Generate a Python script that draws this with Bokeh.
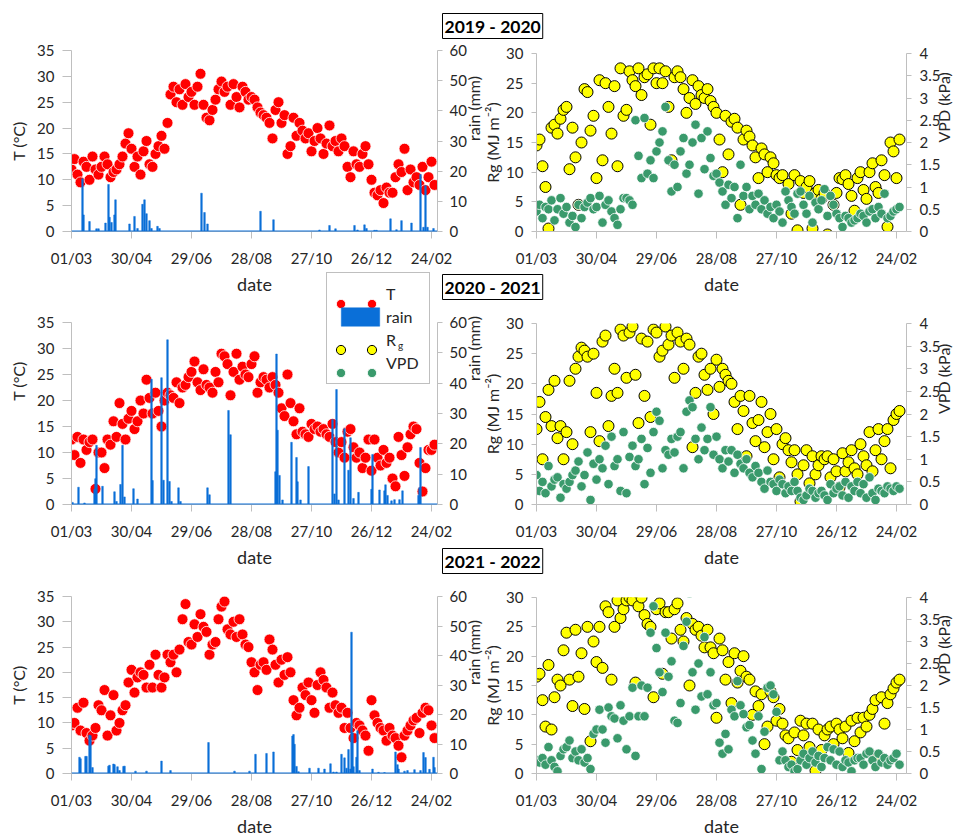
import math
from bokeh.plotting import figure
from bokeh.models import (Range1d, LinearAxis, FixedTicker, Legend, LegendItem,
                          Span, NumeralTickFormatter)
from bokeh.layouts import row, column
from bokeh.embed import file_html
from bokeh.resources import INLINE

# ---------------- data ----------------
tick_days = [0, 60, 120, 180, 240, 300, 360]
tick_labels = ["01/03", "30/04", "29/06", "28/08", "27/10", "26/12", "24/02"]
seasons = ["2019 - 2020", "2020 - 2021", "2021 - 2022"]
step_days = 3  # one reading every third day from 1 March

T_2019 = [12, 14, 11, 9.5, 13.5, 12.5, 10, 14.5, 12, 11,
          12.5, 14.5, 13, 10.5, 11.5, 12, 13, 14.5, 17, 19,
          16, 12.5, 14.5, 11, 15.5, 17.5, 13, 12.5, 15, 16.5,
          18.5, 16, 21, 26.5, 28, 25, 27.5, 24.5, 28.5, 26,
          27, 24.5, 28, 30.5, 24.5, 22, 21.5, 23.5, 25.5, 27.5,
          29, 27, 28, 24.5, 28.5, 26, 24, 28, 27, 25.5,
          26, 25.5, 24, 23, 22.5, 22, 21, 18, 23.5, 25,
          21, 22.5, 15, 16.5, 22, 18.5, 21, 19.5, 18, 19,
          15.5, 17.5, 20, 18, 15, 17, 20.5, 16.5, 17.5, 15.5,
          18, 16.5, 12.5, 10.5, 15.5, 13, 12.5, 15, 16.5, 13,
          10, 7.5, 7, 8, 5.5, 8.5, 7.5, 7.5, 10.5, 13,
          11.5, 16, 8, 12, 9.5, 10.5, 9, 12.5, 8, 10.5,
          13.5, 9]
rain_day_2019 = [11, 12, 18, 25, 27, 34, 37, 38, 40, 43, 44, 58, 63, 66, 71, 73, 75, 78, 80, 86, 88,
                 130, 133, 136, 189, 202, 248, 258, 264, 283, 286, 293, 295, 303, 305, 319, 325, 330,
                 340, 349, 352, 354, 356, 362]
rain_mm_2019 = [17.5, 5.5, 3.3, 0.9, 0.9, 2.8, 15.6, 4.7, 3, 5.5, 10.5, 2.5, 5, 1, 9, 10.5, 5.9, 3.6, 1, 1.7, 1,
                12.7, 6.3, 2.5, 6.7, 3.9, 0.5, 2, 0.9, 2, 0.5, 2.2, 1, 0.4, 0.4, 4.2, 0.6, 3.6,
                2.8, 18.9, 1.4, 15.2, 1.4, 1]
Rg_2019 = [14.5, 15.5, 11, 7.5, 0.5, 17.5, 18, 16.5, 19, 20.5,
           21, 10.5, 17.5, 12.5, 4.5, 15, 24, 23.5, 17, 19.5,
           9, 25.5, 12, 25, 21, 16.5, 24.5, 11, 27.5, 19.5,
           20.5, 27, 25.5, 24.5, 27.5, 23, 26, 26.5, 18, 27.5,
           25, 27.5, 25, 27, 21, 12, 26, 27, 26, 24,
           20, 22.5, 25.5, 21.5, 24.5, 23, 22.5, 24, 22, 21,
           20, 15.5, 10, 19.5, 13, 18.5, 19, 17.5, 4.5, 15.5,
           17, 16, 14.5, 12.5, 9, 14, 13, 10, 12.5, 11.5,
           9.5, 9, 9.5, -1.5, 8, 3, 9.5, 0.2, 8.5, 6.5,
           7.5, 8.5, 0.5, 6.5, 7, 5.5, 6.5, -0.5, -1.2, 4.5,
           6.5, 9, 8.8, 9.5, 8, 6, 3.5, 9, 10, 7,
           5.5, 10, 11.5, 7.5, 6.5, 12, 9.5, 0.8, 15, 13.5,
           9, 15.5]
VPD_2019 = [0.45, 0.6, 0.3, 0.55, 0.5, 0.7, 0.25, 0.5, 0.75, 0.4,
            0.55, 0.2, 0.35, 0.1, 0.6, 0.3, 0.55, 0.65, 0.75, 0.5,
            0.55, 0.8, 0.2, 0.6, 0.7, 0.45, 0.3, 0.15, 0.5, 0.75,
            0.75, 0.7, 0.6, 2.5, 1.7, 1.2, 2.55, 1.3, 1.6, 1.2,
            1.8, 2.0, 2.25, 2.8, 1.6, 0.9, 1.5, 1.0, 1.8, 2.1,
            1.3, 1.5, 2.0, 2.4, 0.85, 2.1, 1.4, 2.25, 1.65, 1.25,
            1.3, 1.1, 0.9, 0.6, 1.05, 0.75, 1.0, 0.3, 1.5, 0.8,
            1.0, 0.5, 0.8, 0.6, 0.85, 0.5, 0.7, 0.4, 0.55, 0.3,
            0.6, 0.45, 0.2, 0.9, 0.7, 0.55, 0.4, 0.85, 0.9, 0.6,
            0.4, 0.8, 0.2, 0.65, 0.5, 0.7, 0.95, 0.35, 0.8, 0.6,
            0.4, 0.3, 0.1, 0.35, 0.3, 0.2, 0.25, 0.3, 0.4, 0.35,
            0.2, 0.45, 0.5, 0.3, 0.55, 0.4, 0.85, 0.3, 0.35, 0.45,
            0.5, 0.55]

T_2020 = [12.5, 9.5, 13, 8, 12.5, 10.5, 12, 12.5, 3, 10,
          10, 7, 12.5, 11.5, 16, 13, 19.5, 15.5, 12.5, 16.5,
          18, 14.5, 16, 20, 17.5, 24, 20.5, 17.5, 21.5, 18,
          15, 20, 21.5, 21, 20.5, 23.5, 19.5, 22.5, 23, 24.5,
          25.5, 27.5, 23.5, 22, 26, 23, 22.5, 21.5, 25.5, 23.5,
          29, 28.5, 27, 21, 25.5, 29, 24, 26.5, 25, 24.5,
          27, 28.5, 21.5, 23.5, 24.5, 24, 22.5, 24.5, 23, 21.5,
          18.5, 17, 25, 19.5, 16, 13.5, 18.5, 14, 13.5, 13,
          15.5, 14.5, 15, 14, 14.5, 13.5, 13, 15.5, 12, 10,
          12, 9, 14, 14.5, 11, 9, 10, 7, 9, 12.5,
          6.5, 12.5, 9, 7.5, 10.5, 8, 9, 5, 3.5, 13,
          9.5, 5.5, 11, 13.5, 15, 14.5, 8, 2.5, 7, 10.5,
          10.5, 11.5]
rain_day_2020 = [1, 7, 13, 23, 24, 25, 31, 43, 45, 49, 51, 53, 62, 66, 80, 81, 90, 92, 96, 98, 100,
                 107, 109, 136, 138, 157, 159, 204, 205, 206, 208, 211, 220, 225, 226, 229, 237,
                 261, 263, 265, 267, 273, 277, 279, 282, 287, 300, 301, 308, 313, 314, 316,
                 320, 323, 328, 331, 347, 348, 349]
rain_mm_2020 = [0.7, 5.7, 0.5, 5, 8.5, 19.5, 6, 4.2, 1, 6.6, 19.5, 2.5, 5.2, 1.8, 41.3, 7.9, 41.8, 8, 54.3, 7.6, 1,
                5.5, 1, 5.5, 3.2, 31, 23, 10.8, 49.6, 24.5, 9.6, 1.5, 20.5, 15.5, 7.5, 1.5, 12.5,
                28, 3.5, 37.9, 1.5, 25, 11.3, 22, 2, 4, 5, 16.5, 4.8, 4.5, 6.5, 3,
                1.2, 1.6, 1.6, 4.5, 3, 5.5, 18.8]
Rg_2020 = [12.5, 17, 7.5, 14.5, 19, 13, 20.5, 11, 13, 7.5,
           12, 20.5, 10, 22.5, 24.5, 26, 25.5, 24.5, 12, 25,
           18.5, 10.5, 27, 28, 13, 18, 22.5, 18.5, 29, 28,
           21, 28.5, 29.5, 21.5, 13.5, 27.5, 18, 27, 14.5, 29,
           28.5, 24.5, 25.5, 29.5, 26.5, 28, 21, 28.5, 27, 22.5,
           27.5, 26.5, 9.5, 18.5, 24.5, 25, 21.5, 19, 22.5, 15,
           24, 19.5, 22.5, 21.5, 20.5, 20, 17, 12.5, 18, 15.5,
           8, 18, 13.5, 10.5, 14, 17, 9.5, 12, 15, 7.5,
           12.5, 4.5, 10, 11, 9, 7, 9, 5, 0.5, 6.5,
           9, 3.5, 8, 5, 6.5, 8, 7.5, 8, 4.5, 7.5,
           5.5, 2.8, 8.5, 5.5, 7, 9, 6, 5, 10, 8,
           6.5, 12, 5.5, 9, 12.5, 7.5, 10.5, 12.5, 6, 14,
           15, 15.5]
VPD_2020 = [0.65, 0.3, 0.5, 0.25, 0.85, 0.4, 0.55, 0.6, 0.15, 0.45,
            0.35, 0.5, 0.65, 0.75, 0.95, 0.4, 0.65, 1.15, 0.1, 0.9,
            0.55, 1.0, 0.8, 1.3, 0.45, 1.5, 0.85, 1.0, 0.3, 1.6,
            0.25, 1.05, 1.3, 0.85, 1.0, 1.45, 0.45, 1.25, 0.7, 1.6,
            2.05, 1.85, 0.8, 1.2, 1.1, 1.45, 1.15, 1.5, 1.6, 0.8,
            2.05, 2.3, 2.15, 1.45, 1.0, 1.7, 1.2, 1.45, 2.15, 1.1,
            1.5, 1.0, 0.8, 1.2, 0.95, 1.2, 0.7, 1.1, 0.9, 0.8,
            1.0, 0.7, 0.6, 0.85, 0.7, 0.5, 0.35, 0.75, 0.5, 0.45,
            0.3, 0.55, 0.45, 0.25, 0.4, 0.3, 0.5, 0.3, 0.15, 0.1,
            0.2, 0.35, 0.3, 0.15, 0.25, 0.3, 0.2, 0.1, 0.45, 0.25,
            0.35, 0.4, 0.2, 0.5, 0.15, 0.4, 0.3, 0.5, 0.25, 0.45,
            0.15, 0.6, 0.25, 0.1, 0.35, 0.3, 0.25, 0.4, 0.35, 0.3,
            0.4, 0.35]

T_2021 = [9.5, 10, 13, 8.5, 14, 8, 6.5, 7.5, 9, 13.5,
          12.5, 16.5, 7.5, 11.5, 15.5, 8.5, 10, 12.5, 13.5, 18,
          20.5, 16, 19, 20, 19.5, 17, 21.5, 17, 23.5, 19.5,
          17, 19, 23.5, 22, 23.5, 20, 24.5, 30.5, 33.5, 26,
          25.5, 29.5, 27, 31.5, 29, 28, 23.5, 25.5, 26, 30.5,
          33, 34, 28.5, 27.5, 30, 27, 30.5, 27.5, 25.5, 25,
          22, 20, 16.5, 21.5, 22, 20.5, 26.5, 24.5, 21.5, 18,
          22.5, 19.5, 23, 20, 14.5, 11.5, 13, 17, 15.5, 18,
          14.5, 12, 17.5, 20, 18.5, 17, 13, 16, 13.5, 12,
          13, 9, 12, 9, 7, 10, 9.5, 8.5, 7.5, 4.5,
          14.5, 11.5, 10, 9, 8.5, 6.5, 9, 7.5, 7, 5.5,
          3.2, 7.5, 8.5, 9.5, 10.5, 11, 8, 12, 13, 12.5,
          9.5, 7]
rain_day_2021 = [8, 9, 14, 15, 18, 19, 21, 37, 38, 42, 43, 46, 48, 52, 53, 64, 75, 90, 99,
                 137, 163, 178, 184, 195, 202, 221, 222, 223, 225, 227, 238, 247, 253, 259, 262, 265,
                 270, 273, 275, 277, 279, 280, 281, 282, 285, 286, 288, 301, 307, 313,
                 324, 326, 327, 333, 336, 343, 349, 352, 354, 358, 362, 363]
rain_mm_2021 = [5.5, 5, 5.8, 5.8, 13, 12.8, 2, 2.5, 2.8, 3.2, 3, 2.3, 1, 2.4, 2.5, 0.8, 0.8, 4.2, 1,
                10.5, 0.8, 0.8, 6.5, 6.8, 7.3, 12.7, 13.2, 9.9, 2.4, 0.6, 1.8, 1.8, 1.5, 3.3, 0.5, 0.5,
                6.5, 5.3, 1.8, 8.1, 1.5, 47.9, 13.8, 2.3, 5.5, 14.5, 1, 1.5, 0.4, 0.3,
                7.3, 3, 1.5, 0.8, 1, 1.3, 1, 7.1, 5.4, 1.4, 5.5, 2]
Rg_2021 = [16.5, 17, 12.5, 8, 18.5, 7.5, 13, 16, 15, 21,
           24, 16, 11.5, 24.5, 16.5, 20.5, 11, 25, 5.5, 22.5,
           19, 25, 18, 28.5, 27.5, 16, 25, 29.5, 26.5, 28,
           29.5, 30, 29.5, 15.5, 28.5, 30, 27, 25.5, 25, 13,
           28, 29, 17, 27.5, 27.5, 23, 28, 29, 24.5, 22.5,
           26.5, 15, 25.5, 24.5, 25, 23.5, 21.5, 24.5, 21.5, 20.5,
           9.5, 23, 21, 16, 19, 12, 20.5, 15.5, 17.5, 20,
           16.5, 16, 10, 14, 11.5, 13.5, 5, 8, 14, 13,
           9, 11, 8.5, 6.5, 6, 2, 7, 4, 9, 6.5,
           8.5, 4.5, 8.5, 0.5, 7.5, 4, 6.5, 7.5, 8, 5,
           8.5, 7.5, 6, 8, 3.5, 9, 5.5, 9.5, 7, 9.5,
           8, 10, 11, 12.5, 3, 13, 8.5, 12, 13.5, 14.5,
           15.5, 16]
VPD_2021 = [0.3, 0.25, 0.35, 0.2, 0.6, 0.3, 0.15, 0.05, 0.4, 0.55,
            0.6, 0.75, 0.35, 0.5, 0.3, 0.55, 0.25, 0.35, 0.1, 0.9,
            1.0, 1.45, 1.0, 0.7, 1.5, 1.3, 1.25, 0.8, 1.55, 1.2,
            0.55, 1.3, 1.95, 0.4, 1.3, 2.0, 1.3, 1.95, 3.2, 3.8,
            2.85, 2.3, 1.85, 3.2, 2.2, 2.55, 1.2, 1.15, 1.6, 2.9,
            3.45, 4.1, 2.3, 1.45, 2.5, 1.75, 3.1, 1.8, 2.3, 1.55,
            1.6, 0.7, 0.45, 0.9, 0.55, 1.45, 1.3, 2.1, 1.55, 1.35,
            1.05, 1.1, 0.75, 0.45, 1.3, 0.1, 0.95, 1.95, 2.0, 1.8,
            1.4, 0.3, 0.5, 0.3, 0.15, 0.2, 0.05, 0.1, 0.3, 0.45,
            0.2, 0.35, 0.5, 0.25, 0.4, 0.15, 0.35, 0.6, 0.3, 0.55,
            0.2, 0.5, 0.15, 0.3, 0.25, 0.05, 0.3, 0.35, 0.35, 0.2,
            0.45, 0.5, 0.3, 0.15, 0.45, 0.25, 0.35, 0.2, 0.3, 0.35,
            0.45, 0.2]

T_series = [T_2019, T_2020, T_2021]
rain_days = [rain_day_2019, rain_day_2020, rain_day_2021]
rain_mms = [rain_mm_2019, rain_mm_2020, rain_mm_2021]
Rg_series = [Rg_2019, Rg_2020, Rg_2021]
VPD_series = [VPD_2019, VPD_2020, VPD_2021]

# ---------------- style ----------------
FONT = "Lato"
TXT = "#262626"
AXC = "#BFBFBF"
RED = "#FF0000"
BLUE = "#0A6FD8"
YEL = "#FFFF00"
GRN = "#3A9A6C"
NAN = float("nan")

# canvas geometry of each row (px): height, border above/below the plotting frame
GEOM = [dict(h=300, top=50, bottom=69, fh=181, margin=0, tstand=26),
        dict(h=318, top=70, bottom=66, fh=182, margin=-48, tstand=44),
        dict(h=313, top=70, bottom=61, fh=182, margin=-44, tstand=44)]


def style_axis(ax, ticks, tick_out=5, standoff=7, label=None, label_size="16px",
               label_standoff=5, orient=None):
    ax.ticker = FixedTicker(ticks=ticks)
    ax.axis_line_color = AXC
    ax.major_tick_line_color = AXC
    ax.minor_tick_line_color = None
    ax.major_tick_in = 0
    ax.major_tick_out = tick_out
    ax.major_label_standoff = standoff
    ax.major_label_text_font = FONT
    ax.major_label_text_font_size = "15px"
    ax.major_label_text_color = TXT
    ax.axis_label = label
    ax.axis_label_text_font = FONT
    ax.axis_label_text_font_size = label_size
    ax.axis_label_text_font_style = "normal"
    ax.axis_label_text_color = TXT
    ax.axis_label_standoff = label_standoff
    if orient is not None:
        try:
            ax.axis_label_orientation = orient
        except Exception:
            pass


def base_fig(width, g, xmax, ymax, mleft, mright, mtop, margin):
    p = figure(width=width, height=g["h"], x_range=Range1d(0, xmax), y_range=Range1d(0, ymax),
               output_backend="svg", toolbar_location=None,
               min_border_left=mleft, min_border_right=mright,
               min_border_top=mtop, min_border_bottom=g["bottom"],
               background_fill_color=None, border_fill_color=None, outline_line_color=None,
               margin=margin)
    try:
        p.frame_align = False
    except Exception:
        pass
    p.grid.visible = False
    style_axis(p.xaxis[0], tick_days, tick_out=7, standoff=10, label="date",
               label_size="18px", label_standoff=3)
    p.xaxis[0].major_label_overrides = dict(zip(tick_days, tick_labels))
    return p


def left_panel(i, frame_top_gap=None):
    g = GEOM[i]
    T = T_series[i]
    days = [k * step_days for k in range(len(T))]
    mtop = g["top"] if frame_top_gap is None else frame_top_gap
    k = (g["h"] - mtop - g["bottom"]) / g["fh"]   # frame stretched above the 35 °C line
    p = base_fig(505, g, 366, 35 * k, 71, 68, mtop, (g["margin"], 0, 0, 0) if g["margin"] else None)
    p.extra_y_ranges = {"rain": Range1d(0, 60 * k)}
    style_axis(p.yaxis[0], list(range(0, 36, 5)), tick_out=9, standoff=8,
               label="T (°C)", label_standoff=6)
    p.yaxis[0].bounds = (0, 35)
    ra = LinearAxis(y_range_name="rain", bounds=(0, 60))
    style_axis(ra, list(range(0, 61, 10)), tick_out=5, standoff=7,
               label="rain (mm)", label_standoff=4, orient=math.pi / 2)
    p.add_layout(ra, "right")
    rT = p.scatter(days, T, size=11, marker="circle", fill_color=RED,
                   line_color="white", line_width=0.8)
    rR = p.vbar(x=rain_days[i], top=rain_mms[i], width=1.6, y_range_name="rain",
                fill_color=BLUE, line_color=BLUE, line_width=0.5)
    p.add_layout(Span(location=0, dimension="width", y_range_name="rain",
                      line_color=BLUE, line_width=2))
    return p, rT, rR


def right_panel(i):
    g = GEOM[i]
    Rg = Rg_series[i]
    V = VPD_series[i]
    p = base_fig(531, g, 370, 30, 101, 60, g["top"], (g["margin"], 0, 0, -70))
    p.extra_y_ranges = {"vpd": Range1d(0, 4)}
    style_axis(p.yaxis[0], list(range(0, 31, 5)), tick_out=5, standoff=8,
               label="Rg (MJ m⁻²)", label_standoff=1)
    va = LinearAxis(y_range_name="vpd")
    style_axis(va, [0, 0.5, 1, 1.5, 2, 2.5, 3, 3.5, 4], tick_out=5, standoff=8,
               label="VPD (kPa)", label_standoff=0, orient=math.pi / 2)
    va.formatter = NumeralTickFormatter(format="0.[0]")
    p.add_layout(va, "right")
    p.scatter([k * step_days for k in range(len(Rg))], Rg, size=11, marker="circle",
              fill_color=YEL, line_color="black", line_width=1)
    p.scatter([k * step_days for k in range(len(V))], V, size=9.5, marker="circle",
              fill_color=GRN, line_color="white", line_width=0.8, y_range_name="vpd")
    # season title box
    t = p.title
    t.text = seasons[i]
    t.align = "left"
    t.offset = -94
    t.vertical_align = "top"
    t.standoff = g["tstand"]
    t.text_font = FONT
    t.text_font_size = "17.5px"
    t.text_font_style = "bold"
    t.text_color = "black"
    t.border_line_color = "black"
    t.border_line_width = 1
    t.background_fill_color = "white"
    try:
        t.padding = 2
    except Exception:
        pass
    return p


pL1, _, _ = left_panel(0)
pR1 = right_panel(0)
pL2, rT2, rR2 = left_panel(1, frame_top_gap=5)
pR2 = right_panel(1)
pL3, _, _ = left_panel(2)
pR3 = right_panel(2)

# ---------------- legend (inside the stretched middle-left frame) ----------------
# proxy renderers (no visible marks) that only lend their styling to the legend
dummy = pL2.scatter([NAN], [NAN], size=1, fill_alpha=0, line_alpha=0)
rRg_leg = pL2.scatter([NAN], [NAN], marker="circle", fill_color=YEL, line_color="black", line_width=1)
rV_leg = pL2.scatter([NAN], [NAN], marker="circle", fill_color=GRN, line_color="white", line_width=0.8)


def make_legend(items, vx, vy, boxed, gw, lw, fsize="16px", standoff=2):
    lg = Legend(items=items, location=(vx, vy), orientation="vertical",
                padding=9, spacing=0, margin=0, glyph_width=gw, glyph_height=23,
                label_width=lw, label_height=23, label_standoff=standoff,
                label_text_font=FONT, label_text_font_size=fsize, label_text_color=TXT)
    lg.background_fill_alpha = 0
    if boxed:
        lg.border_line_color = AXC
        lg.border_line_alpha = 1
        lg.border_line_width = 1
    else:
        lg.border_line_color = None
    pL2.add_layout(lg)
    return lg


for vx in (256.5, 287.5):
    make_legend([LegendItem(label=" ", renderers=[rT2]),
                 LegendItem(label=" ", renderers=[dummy]),
                 LegendItem(label=" ", renderers=[rRg_leg]),
                 LegendItem(label=" ", renderers=[rV_leg])], vx, 120, False, 25, 0)
# subscript "g" of R_g, set a little lower and smaller than the legend labels
make_legend([LegendItem(label=" ", renderers=[dummy]),
             LegendItem(label=" ", renderers=[dummy]),
             LegendItem(label="g", renderers=[dummy]),
             LegendItem(label=" ", renderers=[dummy])], 326, 125, False, 1, 0,
            fsize="10px", standoff=0)
# boxed legend with the texts and the rain swatch, drawn last so its frame stays on top
make_legend([LegendItem(label="T", renderers=[dummy]),
             LegendItem(label="rain", renderers=[rR2]),
             LegendItem(label="R", renderers=[dummy]),
             LegendItem(label="VPD", renderers=[dummy])], 255, 120, True, 48, 34)

layout = column(row(pL1, pR1), row(pL2, pR2), row(pL3, pR3))

with open("out.html", "w") as f:
    f.write(file_html(layout, INLINE))
